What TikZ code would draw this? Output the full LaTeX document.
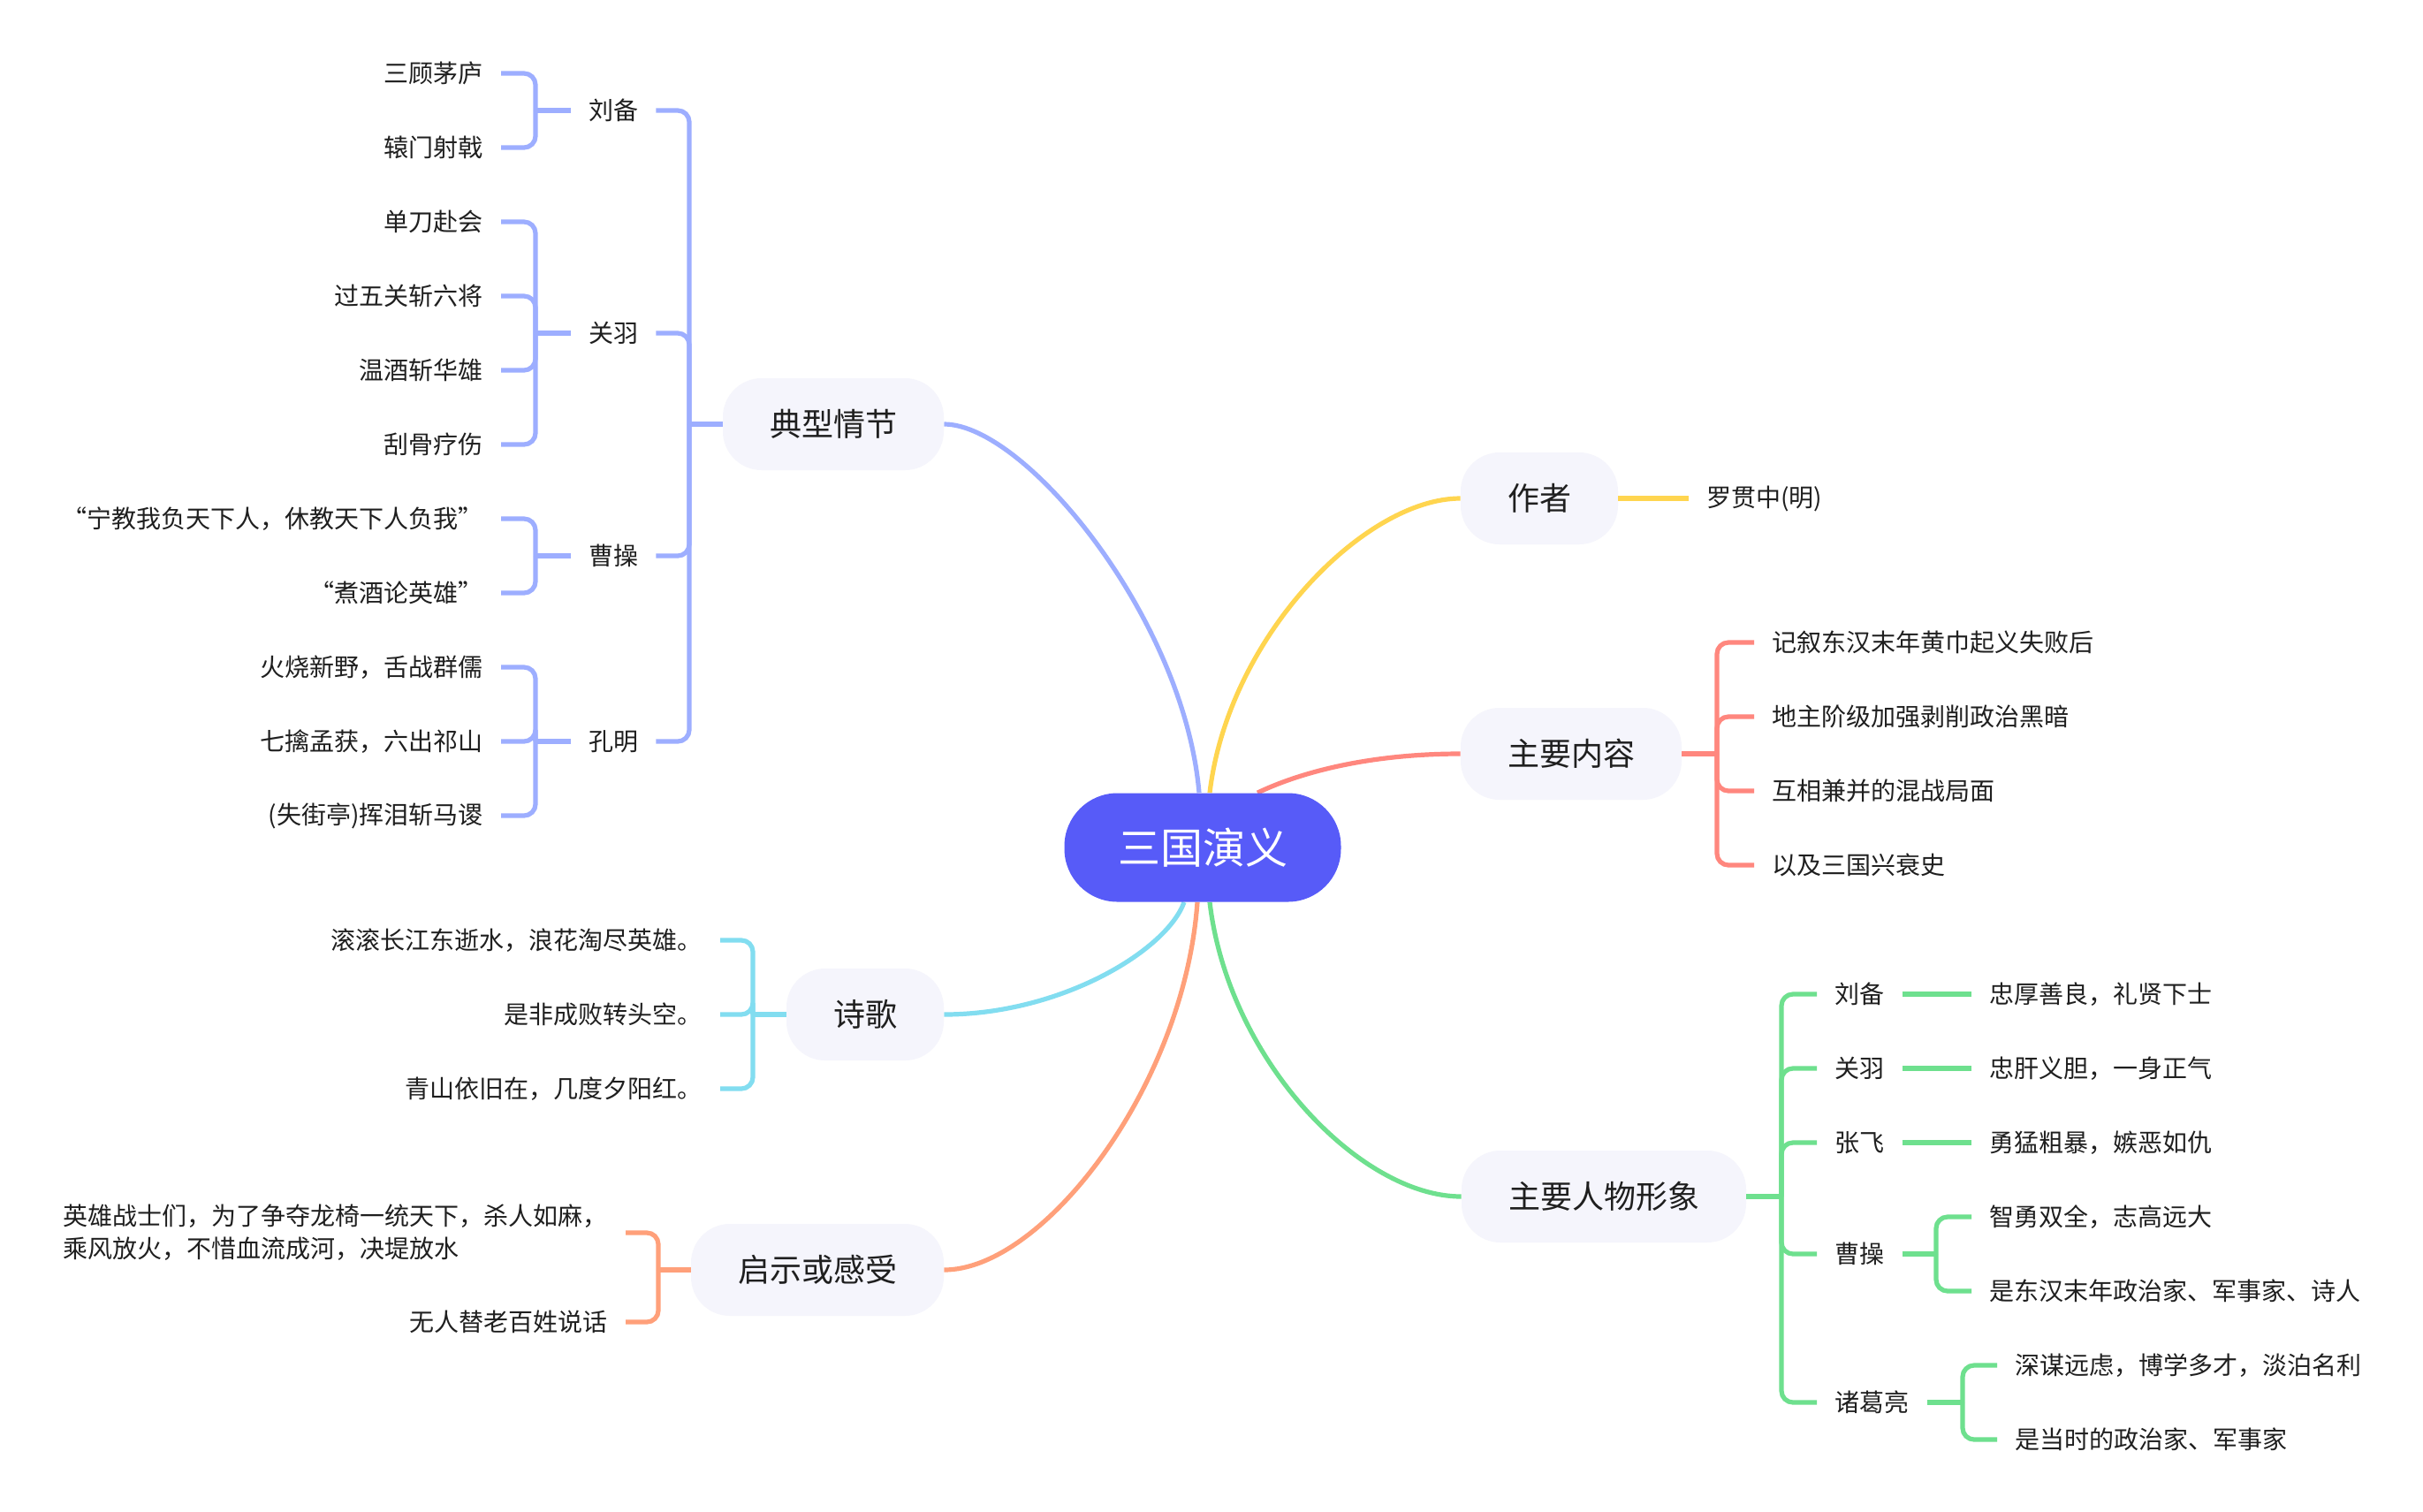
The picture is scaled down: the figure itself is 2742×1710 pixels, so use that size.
\documentclass[tikz,border=0pt]{standalone}
\usepackage{fontspec}
\setmainfont{Noto Sans CJK SC}
\usetikzlibrary{calc}
\definecolor{cblue}{HTML}{9DAEFF}
\definecolor{cyel}{HTML}{FFD54F}
\definecolor{csal}{HTML}{FF877E}
\definecolor{cgreen}{HTML}{6EE08E}
\definecolor{ccyan}{HTML}{82DDF0}
\definecolor{corange}{HTML}{FFA07A}
\definecolor{ccenter}{HTML}{575BF8}
\definecolor{cfill}{HTML}{F5F5FC}
\definecolor{ctext}{HTML}{1F1F1F}
\pgfdeclarelayer{background}
\pgfdeclarelayer{canvas}
\pgfsetlayers{canvas,background,main}
\begin{document}
\begin{tikzpicture}[x=0.5pt,y=-0.5pt,
  root/.style={fill=ccenter, text=white, font=\fontsize{24}{28}\selectfont, rounded corners=30pt, minimum height=61.5pt, minimum width=156.5pt, inner sep=0pt},
  topic/.style={fill=cfill, text=ctext, font=\fontsize{18}{22}\selectfont, rounded corners=22pt, minimum height=52pt, inner xsep=26.5pt, inner ysep=0pt},
  leaf/.style={text=ctext, font=\fontsize{14}{18.5}\selectfont, inner xsep=10pt, inner ysep=2pt},
  link/.style={line width=2.6pt},
  brk/.style={line width=2.6pt, rounded corners=6.5pt}
]
\begin{pgfonlayer}{canvas}
\fill[white] (0,0) rectangle (2742,1710);
\end{pgfonlayer}
\useasboundingbox (0,0) rectangle (2742,1710);

% ---------- root ----------
\node[root] (root) at (1361,959) {三国演义};

% ---------- level 1 ----------
\node[topic] (dx) at (943,480) {典型情节};
\node[topic] (zz) at (1742,564) {作者};
\node[topic] (nr) at (1778,853) {主要内容};
\node[topic] (rw) at (1815,1354) {主要人物形象};
\node[topic] (sg) at (979,1148) {诗歌};
\node[topic] (qs) at (925,1437) {启示或感受};

% ---------- 典型情节 ----------
\node[leaf] (lb) at (694,125) {刘备};
\node[leaf] (gy) at (694,377) {关羽};
\node[leaf] (cc) at (694,629) {曹操};
\node[leaf] (km) at (694,839) {孔明};
\node[leaf,anchor=east] (lb1) at (567,83) {三顾茅庐};
\node[leaf,anchor=east] (lb2) at (567,167) {辕门射戟};
\node[leaf,anchor=east] (gy1) at (567,251) {单刀赴会};
\node[leaf,anchor=east] (gy2) at (567,335) {过五关斩六将};
\node[leaf,anchor=east] (gy3) at (567,419) {温酒斩华雄};
\node[leaf,anchor=east] (gy4) at (567,503) {刮骨疗伤};
\node[leaf,anchor=east] (cc1) at (567,587) {“宁教我负天下人，休教天下人负我”};
\node[leaf,anchor=east] (cc2) at (567,671) {“煮酒论英雄”};
\node[leaf,anchor=east] (km1) at (567,755) {火烧新野，舌战群儒};
\node[leaf,anchor=east] (km2) at (567,839) {七擒孟获，六出祁山};
\node[leaf,anchor=east] (km3) at (567,923) {(失街亭)挥泪斩马谡};

\coordinate (jdx) at (780,480);
\coordinate (jlb) at (606,125);
\coordinate (jgy) at (606,377);
\coordinate (jcc) at (606,629);
\coordinate (jkm) at (606,839);
\draw[link,cblue] (dx.west) -- (jdx);
\foreach \c in {lb,gy,cc,km} \draw[brk,cblue] (jdx) |- (\c.east);
\draw[link,cblue] (lb.west) -- (jlb);
\foreach \c in {lb1,lb2} \draw[brk,cblue] (jlb) |- (\c.east);
\draw[link,cblue] (gy.west) -- (jgy);
\foreach \c in {gy1,gy2,gy3,gy4} \draw[brk,cblue] (jgy) |- (\c.east);
\draw[link,cblue] (cc.west) -- (jcc);
\foreach \c in {cc1,cc2} \draw[brk,cblue] (jcc) |- (\c.east);
\draw[link,cblue] (km.west) -- (jkm);
\foreach \c in {km1,km2,km3} \draw[brk,cblue] (jkm) |- (\c.east);

% ---------- 作者 ----------
\node[leaf,anchor=west] (zz1) at (1911,564) {罗贯中(明)};
\draw[link,cyel] (zz.east) -- (zz1.west);

% ---------- 主要内容 ----------
\node[leaf,anchor=west] (nr1) at (1985,727) {记叙东汉末年黄巾起义失败后};
\node[leaf,anchor=west] (nr2) at (1985,811) {地主阶级加强剥削政治黑暗};
\node[leaf,anchor=west] (nr3) at (1985,895) {互相兼并的混战局面};
\node[leaf,anchor=west] (nr4) at (1985,979) {以及三国兴衰史};
\coordinate (jnr) at (1943,853);
\draw[link,csal] (nr.east) -- (jnr);
\foreach \c in {nr1,nr2,nr3,nr4} \draw[brk,csal] (jnr) |- (\c.west);

% ---------- 主要人物形象 ----------
\node[leaf,anchor=west] (r1) at (2056,1125) {刘备};
\node[leaf,anchor=west] (r2) at (2056,1209) {关羽};
\node[leaf,anchor=west] (r3) at (2056,1293) {张飞};
\node[leaf,anchor=west] (r4) at (2056,1419) {曹操};
\node[leaf,anchor=west] (r5) at (2056,1587) {诸葛亮};
\node[leaf,anchor=west] (r1a) at (2231,1125) {忠厚善良，礼贤下士};
\node[leaf,anchor=west] (r2a) at (2231,1209) {忠肝义胆，一身正气};
\node[leaf,anchor=west] (r3a) at (2231,1293) {勇猛粗暴，嫉恶如仇};
\node[leaf,anchor=west] (r4a) at (2231,1377) {智勇双全，志高远大};
\node[leaf,anchor=west] (r4b) at (2231,1461) {是东汉末年政治家、军事家、诗人};
\node[leaf,anchor=west] (r5a) at (2260,1545) {深谋远虑，博学多才，淡泊名利};
\node[leaf,anchor=west] (r5b) at (2260,1629) {是当时的政治家、军事家};
\coordinate (jrw) at (2016,1354);
\coordinate (jr4) at (2191,1419);
\coordinate (jr5) at (2221,1587);
\draw[link,cgreen] (rw.east) -- (jrw);
\foreach \c in {r1,r2,r3,r4,r5} \draw[brk,cgreen] (jrw) |- (\c.west);
\draw[link,cgreen] (r1.east) -- (r1a.west);
\draw[link,cgreen] (r2.east) -- (r2a.west);
\draw[link,cgreen] (r3.east) -- (r3a.west);
\draw[link,cgreen] (r4.east) -- (jr4);
\foreach \c in {r4a,r4b} \draw[brk,cgreen] (jr4) |- (\c.west);
\draw[link,cgreen] (r5.east) -- (jr5);
\foreach \c in {r5a,r5b} \draw[brk,cgreen] (jr5) |- (\c.west);

% ---------- 诗歌 ----------
\node[leaf,anchor=east] (sg1) at (815,1064) {滚滚长江东逝水，浪花淘尽英雄。};
\node[leaf,anchor=east] (sg2) at (815,1148) {是非成败转头空。};
\node[leaf,anchor=east] (sg3) at (815,1232) {青山依旧在，几度夕阳红。};
\coordinate (jsg) at (852,1148);
\draw[link,ccyan] (sg.west) -- (jsg);
\foreach \c in {sg1,sg2,sg3} \draw[brk,ccyan] (jsg) |- (\c.east);

% ---------- 启示或感受 ----------
\node[leaf,anchor=east,align=left] (qs1) at (708,1395) {英雄战士们，为了争夺龙椅一统天下，杀人如麻，\\乘风放火，不惜血流成河，决堤放水};
\node[leaf,anchor=east] (qs2) at (708,1496) {无人替老百姓说话};
\coordinate (jqs) at (745,1437);
\draw[link,corange] (qs.west) -- (jqs);
\foreach \c in {qs1,qs2} \draw[brk,corange] (jqs) |- (\c.east);

% ---------- main curves ----------
\begin{pgfonlayer}{background}
\draw[link,cblue] ($(root.north)+(-4,0)$) .. controls (1340,700) and (1160,480) .. (dx.east);
\draw[link,cyel] ($(root.north)+(8,0)$) .. controls (1390,720) and (1545,564) .. (zz.west);
\draw[link,csal] ($(root.north)+(62,0)$) .. controls (1480,870) and (1560,853) .. (nr.west);
\draw[link,cgreen] ($(root.south)+(8,0)$) .. controls (1390,1200) and (1540,1354) .. (rw.west);
\draw[link,ccyan] ($(root.south)+(-21,0)$) .. controls (1320,1076) and (1200,1148) .. (sg.east);
\draw[link,corange] ($(root.south)+(-6,0)$) .. controls (1340,1230) and (1180,1437) .. (qs.east);
\end{pgfonlayer}
\end{tikzpicture}
\end{document}
